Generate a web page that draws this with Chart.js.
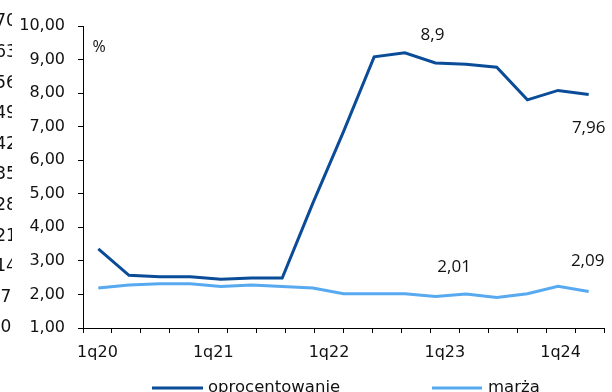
<!DOCTYPE html>
<html>
<head>
<meta charset="utf-8">
<script src="https://cdn.jsdelivr.net/npm/chart.js@4.4.1/dist/chart.umd.min.js"></script>
<style>
  html, body { margin: 0; padding: 0; background: #fff; }
  canvas { display: block; }
</style>
</head>
<body>
<canvas id="c" width="612" height="392"></canvas>
<script>
// Quarters shown on the x axis
const categories = ['1q20','2q20','3q20','4q20','1q21','2q21','3q21','4q21',
                    '1q22','2q22','3q22','4q22','1q23','2q23','3q23','4q23','1q24'];

// Interest rate (oprocentowanie), %
const rateValues = [3.36, 2.57, 2.53, 2.53, 2.45, 2.49, 2.49, 4.72,
                    6.85, 9.08, 9.20, 8.90, 8.86, 8.77, 7.80, 8.08, 7.96];

// Margin (marża), %
const marginValues = [2.19, 2.28, 2.32, 2.32, 2.24, 2.28, 2.24, 2.19,
                      2.02, 2.02, 2.02, 1.94, 2.01, 1.91, 2.02, 2.24, 2.09];

const seriesNames = ['oprocentowanie', 'marża'];
const seriesColors = ['#0b4c98', '#57a9f0'];

// Y-axis values of the neighbouring panel, cut off at the left edge
const sideAxisLabels = [70, 63, 56, 49, 42, 35, 28, 21, 14, 7, 0];

// Which points carry a value label, and where the text sits relative to the point
const valueLabels = [
  { series: 0, index: 11, dx: -3,  dy: -28 },
  { series: 0, index: 16, dx: 0,   dy: 34 },
  { series: 1, index: 12, dx: -12, dy: -27 },
  { series: 1, index: 16, dx: -1,  dy: -30 }
];

const fmtComma = v => String(v).replace('.', ',');

const extrasPlugin = {
  id: 'extras',
  afterDatasetsDraw(chart) {
    const ctx = chart.ctx;
    ctx.save();
    // value labels
    ctx.font = '17px "Open Sans"';
    ctx.fillStyle = '#111';
    ctx.textAlign = 'center';
    ctx.textBaseline = 'middle';
    valueLabels.forEach(l => {
      const pt = chart.getDatasetMeta(l.series).data[l.index];
      const v = chart.data.datasets[l.series].data[l.index];
      ctx.fillText(fmtComma(v), pt.x + l.dx, pt.y + l.dy);
    });
    // unit
    ctx.font = '16px "Open Sans"';
    ctx.fillText('%', 99, 47);
    ctx.restore();
  },
  afterDraw(chart) {
    const ctx = chart.ctx;
    // neighbouring axis, clipped
    ctx.save();
    ctx.beginPath();
    ctx.rect(0, 0, 12, chart.height);
    ctx.clip();
    ctx.font = '17px "DejaVu Sans"';
    ctx.fillStyle = '#111';
    ctx.textAlign = 'center';
    ctx.textBaseline = 'middle';
    const top = 22, bottom = 328;
    sideAxisLabels.forEach((t, i) => {
      const y = top + (bottom - top) * i / (sideAxisLabels.length - 1);
      ctx.fillText(String(t), 6, y);
    });
    ctx.restore();

    // legend
    ctx.save();
    const legendY = 388;
    const items = [{ x1: 152, x2: 203, tx: 208 }, { x1: 432, x2: 482, tx: 488 }];
    ctx.font = '16.5px "DejaVu Sans"';
    ctx.textBaseline = 'middle';
    ctx.textAlign = 'left';
    chart.data.datasets.forEach((ds, i) => {
      const it = items[i];
      ctx.strokeStyle = ds.borderColor;
      ctx.lineWidth = 3;
      ctx.beginPath();
      ctx.moveTo(it.x1, legendY);
      ctx.lineTo(it.x2, legendY);
      ctx.stroke();
      ctx.fillStyle = '#111';
      ctx.fillText(ds.label, it.tx, legendY);
    });
    ctx.restore();
  }
};

new Chart(document.getElementById('c'), {
  type: 'line',
  data: {
    labels: categories,
    datasets: [
      { label: seriesNames[0], data: rateValues, xAxisID: 'xd',
        borderColor: seriesColors[0], backgroundColor: seriesColors[0] },
      { label: seriesNames[1], data: marginValues, xAxisID: 'xd',
        borderColor: seriesColors[1], backgroundColor: seriesColors[1] }
    ]
  },
  options: {
    responsive: false,
    animation: false,
    layout: { padding: { left: 0, right: 8, top: 26, bottom: 0 } },
    elements: {
      point: { radius: 0 },
      line: { borderWidth: 3, tension: 0, borderJoinStyle: 'miter' }
    },
    plugins: {
      legend: { display: false },
      tooltip: { enabled: false }
    },
    scales: {
      // visible quarter axis: one spare slot at the right end
      x: {
        type: 'category',
        position: 'bottom',
        labels: categories.concat(['']),
        offset: true,
        grid: { offset: true, drawOnChartArea: false, tickLength: 5, color: '#000' },
        border: { color: '#000', width: 1 },
        ticks: {
          autoSkip: false,
          maxRotation: 0,
          padding: 10,
          color: '#111',
          font: { family: 'DejaVu Sans', size: 16 },
          callback: (v, i) => (i % 4 === 0 && i < categories.length ? categories[i] : '')
        },
        afterFit: s => { s.height = 64; }
      },
      // axis the two series are plotted on
      xd: {
        type: 'category',
        position: 'bottom',
        labels: categories,
        offset: true,
        display: false
      },
      y: {
        min: 1,
        max: 10,
        grid: { drawOnChartArea: false, tickLength: 5, color: '#000' },
        border: { color: '#000', width: 1 },
        ticks: {
          stepSize: 1,
          padding: 13,
          color: '#111',
          font: { family: 'DejaVu Sans', size: 16 },
          callback: v => v.toFixed(2).replace('.', ',')
        },
        afterFit: s => { s.width = 83; }
      }
    }
  },
  plugins: [extrasPlugin]
});
</script>
</body>
</html>
